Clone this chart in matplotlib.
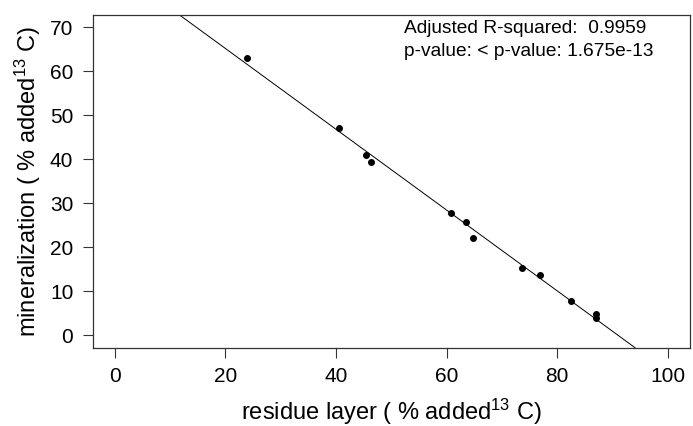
import numpy as np
import matplotlib
matplotlib.use("Agg")
import matplotlib.pyplot as plt

plt.rcParams['font.family'] = ['Liberation Sans', 'DejaVu Sans']
plt.rcParams['mathtext.fontset'] = 'custom'
plt.rcParams['mathtext.rm'] = 'Liberation Sans'
plt.rcParams['mathtext.it'] = 'Liberation Sans:italic'

# residue layer (% added 13C) vs mineralization (% added 13C)
residue = [23.9, 40.6, 45.4, 46.4, 60.7, 63.5, 64.8, 73.7, 76.8, 82.5, 87.0, 87.0]
mineral = [63.0, 47.1, 40.9, 39.4, 27.8, 25.7, 22.0, 15.4, 13.8, 7.7, 4.9, 3.9]

xticks = [0, 20, 40, 60, 80, 100]
yticks = [0, 10, 20, 30, 40, 50, 60, 70]

r2_text = "Adjusted R-squared:  0.9959"
p_text = "p-value: < p-value: 1.675e-13"

fig = plt.figure(figsize=(6.93, 4.26), dpi=100)
ax = fig.add_axes([0.1338, 0.1838, 0.8619, 0.7817])

ax.plot(residue, mineral, 'o', color='black', markersize=4, zorder=3)

slope, icpt = np.polyfit(residue, mineral, 1)
ax.axline((0, icpt), slope=slope, color='black', lw=0.7)

ax.set_xlim(-4, 104)
ax.set_ylim(-2.8, 72.8)
ax.set_xticks(xticks)
ax.set_yticks(yticks)
ax.tick_params(labelsize=15, length=7, width=0.8, direction='out', color='#333333', pad=7)
for s in ax.spines.values():
    s.set_linewidth(0.9)
    s.set_color('#333333')

ax.set_xlabel("residue layer ( % added$^{13}$ C)", fontsize=17, labelpad=8)
ax.set_ylabel("mineralization ( % added$^{13}$ C)", fontsize=17, labelpad=5)

ax.text(0.521, 0.945, r2_text, transform=ax.transAxes, fontsize=13.8, va='baseline', ha='left')
ax.text(0.521, 0.876, p_text, transform=ax.transAxes, fontsize=13.8, va='baseline', ha='left')

fig.savefig("out.png", dpi=100)
